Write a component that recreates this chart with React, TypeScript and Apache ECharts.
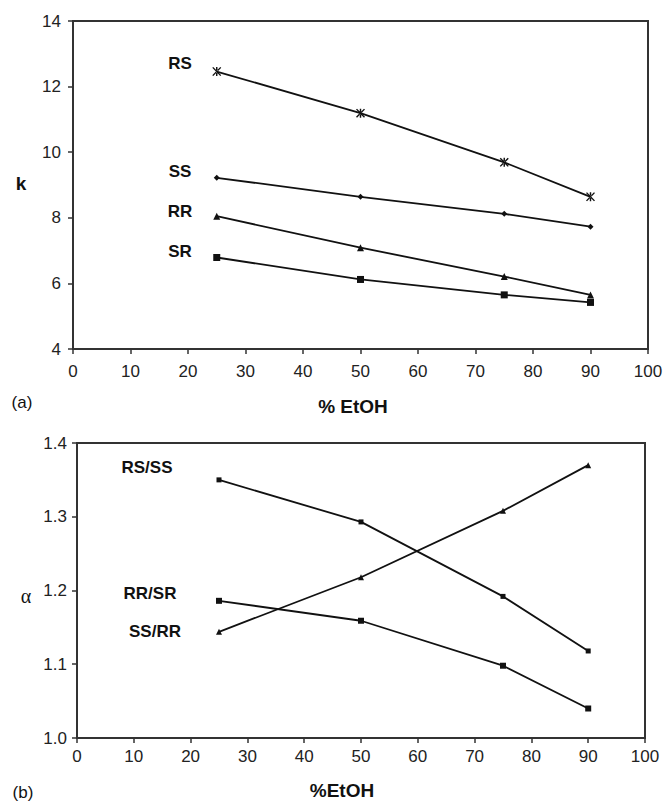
import React, { useEffect, useRef } from "react";
import * as echarts from "echarts";

const etoh = [25, 50, 75, 90];
const kRS = [12.46, 11.19, 9.69, 8.64];
const kSS = [9.22, 8.64, 8.12, 7.73];
const kRR = [8.05, 7.09, 6.21, 5.65];
const kSR = [6.79, 6.12, 5.65, 5.42];
const aRSSS = [1.35, 1.293, 1.192, 1.118];
const aSSRR = [1.144, 1.218, 1.308, 1.37];
const aRRSR = [1.186, 1.159, 1.098, 1.04];

const FONT = "'Liberation Sans', Arial, sans-serif";
const asterisk =
  "path://M4.3,0 h1.4 v10 h-1.4 z M0.6,0.9 L1.6,0 L9.4,9.1 L8.4,10 z M9.4,0.9 L8.4,0 L0.6,9.1 L1.6,10 z";

const pts = (ys: number[]) => etoh.map((x, i) => [x, ys[i]]);

export default function App() {
  const ref = useRef<HTMLDivElement>(null);
  useEffect(() => {
    const chart = echarts.init(ref.current!, null, { renderer: "svg" });
    const axisCommon = {
      axisLine: { show: true, lineStyle: { color: "#333", width: 2 } },
      axisTick: { show: true, length: 5, lineStyle: { color: "#333", width: 1.5 } },
      splitLine: { show: false },
    };
    const line = (name: string, data: number[], symbol: string, size: number, gi: number) => ({
      type: "line",
      name,
      xAxisIndex: gi,
      yAxisIndex: gi,
      data: pts(data),
      symbol,
      symbolSize: size,
      lineStyle: { color: "#111", width: 1.8 },
      itemStyle: { color: "#111" },
    });
    const txt = (x: number, y: number, text: string, size = 17, weight = "bold", family = FONT) => ({
      type: "text",
      x,
      y,
      style: {
        text,
        fill: "#111",
        font: `${weight} ${size}px ${family}`,
        align: "center",
        verticalAlign: "middle",
      },
    });
    chart.setOption({
      animation: false,
      grid: [
        { left: 73, top: 21, width: 575, height: 328, show: true, borderColor: "#333", borderWidth: 2 },
        { left: 77, top: 443, width: 568, height: 295, show: true, borderColor: "#333", borderWidth: 2 },
      ],
      xAxis: [
        {
          gridIndex: 0,
          type: "value",
          min: 0,
          max: 100,
          interval: 10,
          ...axisCommon,
          axisLabel: { fontSize: 17, color: "#222", fontFamily: FONT, margin: 14 },
        },
        {
          gridIndex: 1,
          type: "value",
          min: 0,
          max: 100,
          interval: 10,
          ...axisCommon,
          axisLabel: { fontSize: 17, color: "#222", fontFamily: FONT, margin: 10 },
        },
      ],
      yAxis: [
        {
          gridIndex: 0,
          type: "value",
          min: 4,
          max: 14,
          interval: 2,
          ...axisCommon,
          axisLabel: { fontSize: 17, color: "#222", fontFamily: FONT, margin: 12 },
        },
        {
          gridIndex: 1,
          type: "value",
          min: 1.0,
          max: 1.4,
          interval: 0.1,
          ...axisCommon,
          axisLabel: {
            fontSize: 17,
            color: "#222",
            fontFamily: FONT,
            margin: 10,
            formatter: (v: number) => v.toFixed(1),
          },
        },
      ],
      series: [
        line("RS", kRS, asterisk, 9, 0),
        line("SS", kSS, "diamond", 6, 0),
        line("RR", kRR, "triangle", 7, 0),
        line("SR", kSR, "rect", 7, 0),
        line("RS/SS", aRSSS, "rect", 5, 1),
        line("SS/RR", aSSRR, "triangle", 6, 1),
        line("RR/SR", aRRSR, "rect", 6, 1),
      ],
      graphic: [
        txt(180, 63, "RS"),
        txt(180, 171, "SS"),
        txt(180, 211, "RR"),
        txt(180, 251, "SR"),
        txt(21, 183, "k", 19),
        txt(22, 402, "(a)", 17, "normal"),
        txt(353, 406, "% EtOH", 19),
        txt(147, 467, "RS/SS"),
        txt(150, 593, "RR/SR"),
        txt(155, 631, "SS/RR"),
        txt(26, 596, "α", 20, "normal", "'Liberation Serif', 'DejaVu Serif', serif"),
        txt(23, 792, "(b)", 17, "normal"),
        txt(342, 790, "%EtOH", 19),
      ],
    });
    return () => chart.dispose();
  }, []);
  return (
    <div
      ref={ref}
      style={{ position: "absolute", left: 0, top: 0, width: 669, height: 801, background: "#fff" }}
    />
  );
}
